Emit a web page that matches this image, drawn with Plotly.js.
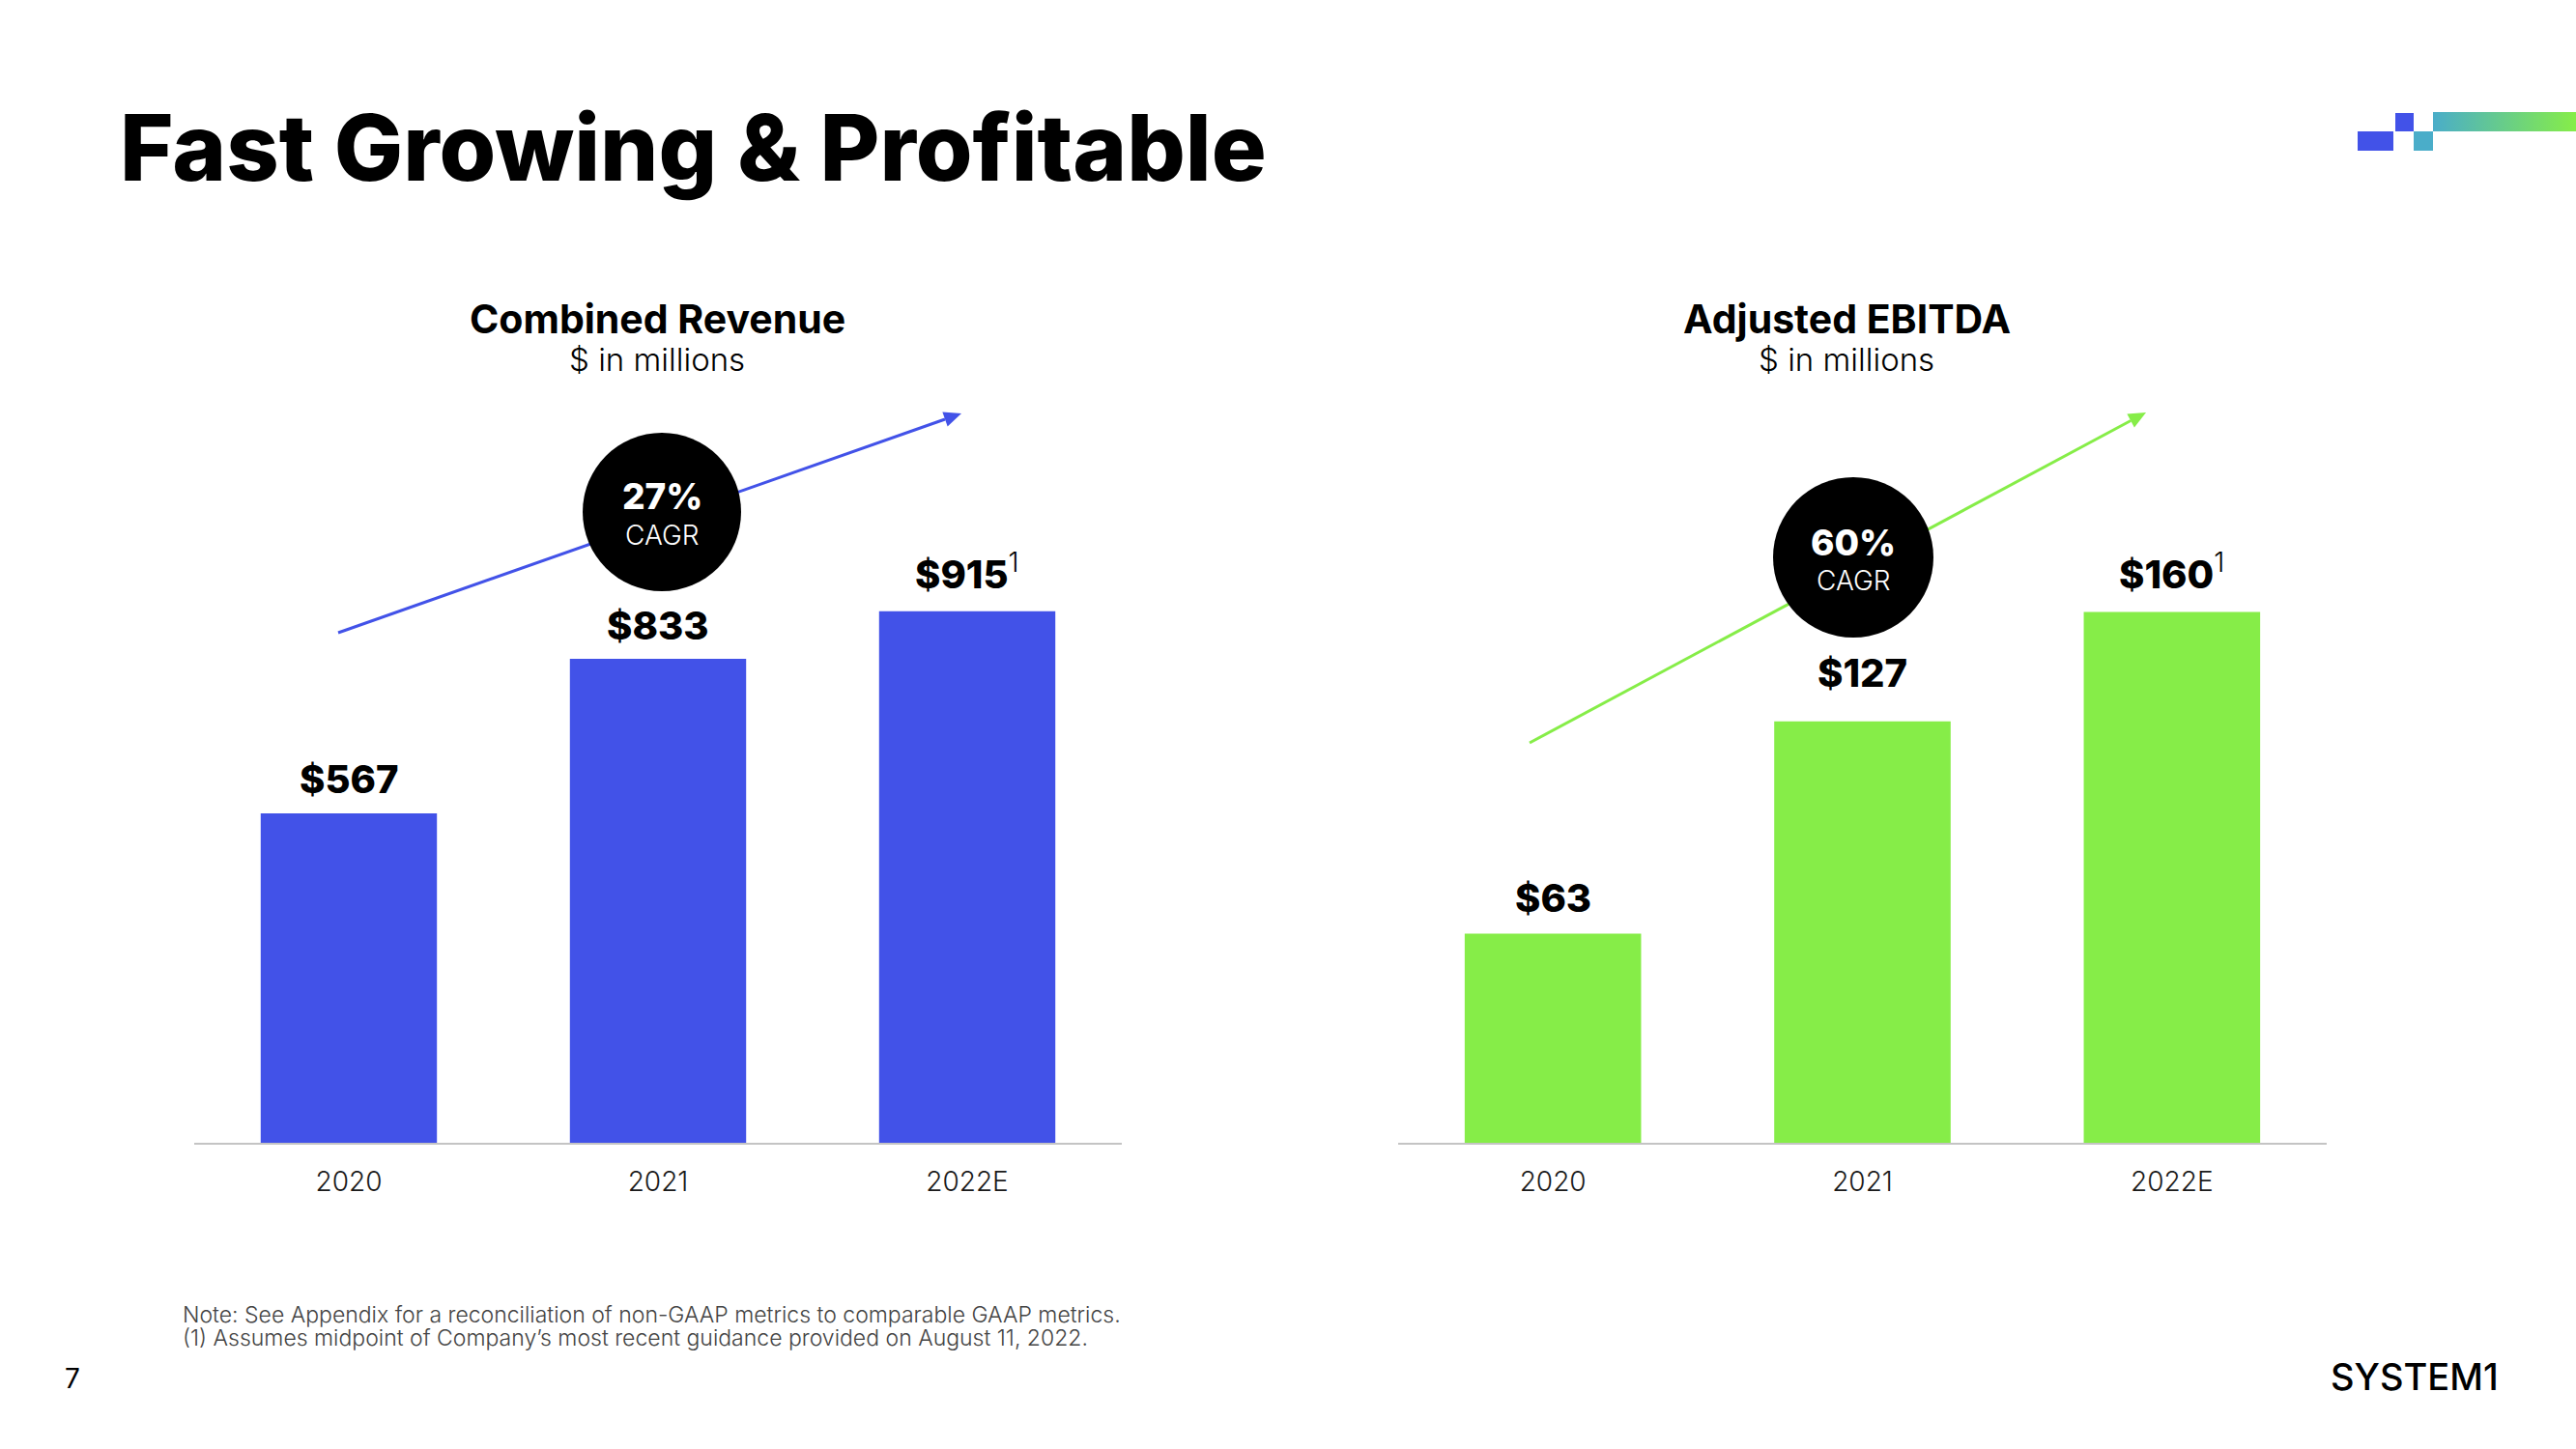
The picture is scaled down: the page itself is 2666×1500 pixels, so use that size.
<!DOCTYPE html>
<html><head><meta charset="utf-8">
<script src="https://cdn.plot.ly/plotly-3.0.1.min.js"></script>
<style>html,body{margin:0;padding:0;background:#fff}#chart{width:2666px;height:1500px}</style>
</head><body><div id="chart"></div>
<script>
// ---- data ----
const categories = ['2020', '2021', '2022E'];
const revenue = [567, 833, 915];
const ebitda = [63, 127, 160];
const footnoteMarks = ['', '', '1'];
const revenueCagr = '27%';
const ebitdaCagr = '60%';
const chartTitles = ['Combined Revenue', 'Adjusted EBITDA'];
const unitLabel = '$ in millions';
const pageTitle = 'Fast Growing & Profitable';
const notes = [
  'Note: See Appendix for a reconciliation of non-GAAP metrics to comparable GAAP metrics.',
  '(1) Assumes midpoint of Company\u2019s most recent guidance provided on August 11, 2022.'
];
const pageNumber = '7';
const brand = 'SYSTEM1';

// ---- style ----
const W = 2666, H = 1500;
const FONT = 'Inter, "Open Sans", sans-serif';
const BLUE = '#4252E8', GREEN = '#86ED48', TEAL = '#4AADC9';
const px = x => x / W, py = y => 1 - y / H;

const traces = [
  {type: 'bar', x: categories, y: revenue, xaxis: 'x', yaxis: 'y',
   marker: {color: BLUE}, width: 0.57, hoverinfo: 'skip'},
  {type: 'bar', x: categories, y: ebitda, xaxis: 'x2', yaxis: 'y2',
   marker: {color: GREEN}, width: 0.57, hoverinfo: 'skip'}
];

const yDom = [py(1183), py(400)];
const xAxisBase = {
  type: 'category', range: [-0.5, 2.5], showline: true, linecolor: '#C4C4C4', linewidth: 2,
  showgrid: false, zeroline: false, ticks: '', fixedrange: true, ticklabelstandoff: 14,
  tickfont: {family: FONT, size: 28, color: '#1a1a1a', weight: 300}
};

function valueLabels(vals, xr, yr, shifts) {
  return vals.map((v, i) => ({
    xref: xr, yref: yr, x: i, y: v, yanchor: 'bottom', xanchor: 'center',
    yshift: shifts[i], showarrow: false,
    text: '$' + v + (footnoteMarks[i] ? '<sup><span style="font-weight:300">' + footnoteMarks[i] + '</span></sup>' : ''),
    font: {family: FONT, size: 40, color: '#000', weight: 800}
  }));
}

function txt(x, y, text, size, weight, color, xanchor) {
  return {xref: 'paper', yref: 'paper', x: px(x), y: py(y), text, showarrow: false,
    xanchor: xanchor || 'center', yanchor: 'middle',
    font: {family: FONT, size, weight, color: color || '#000'}};
}

function arrow(x0, y0, x1, y1, color) {
  const dx = x1 - x0, dy = y1 - y0, L = Math.hypot(dx, dy);
  const ux = dx / L, uy = dy / L, hl = 18, hw = 8;
  const bx = x1 - ux * hl, by = y1 - uy * hl;
  const p1 = [bx - uy * hw, by + ux * hw], p2 = [bx + uy * hw, by - ux * hw];
  return [
    {type: 'line', xref: 'paper', yref: 'paper', x0: px(x0), y0: py(y0), x1: px(bx), y1: py(by),
     line: {color, width: 3}},
    {type: 'path', xref: 'paper', yref: 'paper',
     path: `M ${px(x1)} ${py(y1)} L ${px(p1[0])} ${py(p1[1])} L ${px(p2[0])} ${py(p2[1])} Z`,
     fillcolor: color, line: {color, width: 0}}
  ];
}
function circle(cx, cy, r) {
  return {type: 'circle', xref: 'paper', yref: 'paper', x0: px(cx - r), x1: px(cx + r),
    y0: py(cy + r), y1: py(cy - r), fillcolor: '#000', line: {width: 0}};
}
function rect(x0, y0, x1, y1, c) {
  return {type: 'rect', xref: 'paper', yref: 'paper', x0: px(x0), x1: px(x1), y0: py(y1), y1: py(y0),
    fillcolor: c, line: {width: 0}};
}

const shapes = [
  ...arrow(350, 655, 995, 428, BLUE),
  ...arrow(1583, 769, 2221, 427, GREEN),
  circle(685, 530, 82),
  circle(1918, 577, 83),
  rect(2440, 136, 2477, 156, BLUE),
  rect(2479, 117, 2498, 136, BLUE),
  rect(2498, 136, 2518, 156, TEAL)
];

const annotations = [
  txt(122, 153, pageTitle, 95, 800, '#000', 'left'),
  txt(680, 330, chartTitles[0], 41, 700),
  txt(680, 372, unitLabel, 33, 300),
  txt(1911, 330, chartTitles[1], 41, 700),
  txt(1911, 372, unitLabel, 33, 300),
  ...valueLabels(revenue, 'x', 'y', [9, 8, 12]),
  ...valueLabels(ebitda, 'x2', 'y2', [11, 24, 12]),
  txt(685, 513, revenueCagr, 37, 800, '#fff'),
  txt(685, 554, 'CAGR', 28, 300, '#fff'),
  txt(1918, 561, ebitdaCagr, 37, 800, '#fff'),
  txt(1918, 601, 'CAGR', 28, 300, '#fff'),
  txt(187, 1361, notes[0], 23, 300, '#444', 'left'),
  txt(187, 1385, notes[1], 23, 300, '#444', 'left'),
  txt(75, 1427, pageNumber, 28, 400, '#000'),
  txt(2499, 1425, brand, 38, 500, '#000')
];

const gradSvg = '<svg xmlns="http://www.w3.org/2000/svg" width="148" height="20" viewBox="0 0 148 20" preserveAspectRatio="none">' +
  '<defs><linearGradient id="g" x1="0" y1="0" x2="1" y2="0"><stop offset="0" stop-color="' + TEAL + '"/>' +
  '<stop offset="1" stop-color="' + GREEN + '"/></linearGradient></defs><rect width="148" height="20" fill="url(#g)"/></svg>';

const layout = {
  width: W, height: H, margin: {l: 0, r: 0, t: 0, b: 0},
  paper_bgcolor: '#fff', plot_bgcolor: '#fff', showlegend: false,
  font: {family: FONT},
  xaxis: Object.assign({}, xAxisBase, {domain: [px(201), px(1161)], anchor: 'y'}),
  yaxis: {domain: yDom, range: [0, 783 / 0.6013], visible: false, fixedrange: true},
  xaxis2: Object.assign({}, xAxisBase, {domain: [px(1447), px(2408)], anchor: 'y2'}),
  yaxis2: {domain: yDom, range: [0, 783 / 3.435], visible: false, fixedrange: true},
  shapes, annotations,
  images: [{source: 'data:image/svg+xml;utf8,' + encodeURIComponent(gradSvg), xref: 'paper', yref: 'paper',
    x: px(2518), y: py(116), sizex: 148 / W, sizey: 20 / H, sizing: 'stretch',
    xanchor: 'left', yanchor: 'top', layer: 'above'}]
};

Plotly.newPlot('chart', traces, layout, {displayModeBar: false, staticPlot: true});
</script></body></html>
